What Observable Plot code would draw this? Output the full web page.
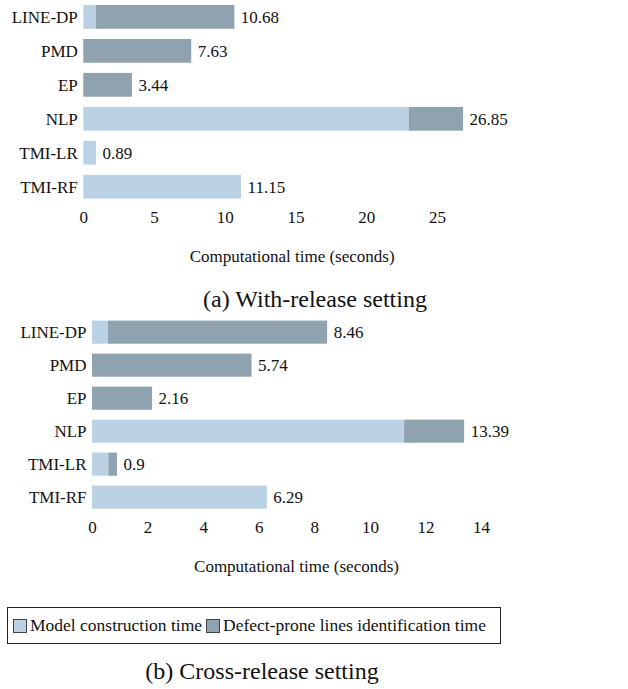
<!DOCTYPE html>
<html>
<head>
<meta charset="utf-8">
<script src="https://cdn.jsdelivr.net/npm/d3@7"></script>
<script src="https://cdn.jsdelivr.net/npm/@observablehq/plot@0.6"></script>
<style>
  html, body { margin: 0; padding: 0; background: #fff; }
  #wrap { position: relative; width: 628px; height: 689px; font-family: "Liberation Serif", "DejaVu Serif", serif; color: #111; }
  .panel { position: absolute; left: 0; }
  .cap { position: absolute; font-size: 24px; line-height: 24px; white-space: nowrap; transform: translate(-50%, -50%); }
  #legend { position: absolute; left: 7px; top: 607px; width: 492px; height: 35px; border: 1px solid #222; display: flex; align-items: center; font-size: 17.5px; box-sizing: content-box; }
  .sw { width: 14px; height: 14px; border: 1px solid #444; margin-left: 5px; margin-right: 3px; box-sizing: border-box; }
</style>
</head>
<body>
<div id="wrap">
  <div id="pa" class="panel" style="top:0px"></div>
  <div class="cap" style="left:315px; top:299px">(a) With-release setting</div>
  <div id="pb" class="panel" style="top:310px"></div>
  <div id="legend"></div>
  <div class="cap" style="left:262px; top:671px">(b) Cross-release setting</div>
</div>
<script>
const categories = ["LINE-DP", "PMD", "EP", "NLP", "TMI-LR", "TMI-RF"];
const seriesNames = ["Model construction time", "Defect-prone lines identification time"];
const seriesColors = ["#bbd2e5", "#8fa2af"];

// (a) With-release setting
const withModel = [0.88, 0, 0, 23.0, 0.89, 11.15];
const withIdent = [9.80, 7.63, 3.44, 3.85, 0, 0];
const withTotal = [10.68, 7.63, 3.44, 26.85, 0.89, 11.15];
const withLabels = ["10.68", "7.63", "3.44", "26.85", "0.89", "11.15"];
const withTicks = [0, 5, 10, 15, 20, 25];

// (b) Cross-release setting
const crossModel = [0.57, 0, 0, 11.23, 0.59, 6.29];
const crossIdent = [7.89, 5.74, 2.16, 2.16, 0.31, 0];
const crossTotal = [8.46, 5.74, 2.16, 13.39, 0.90, 6.29];
const crossLabels = ["8.46", "5.74", "2.16", "13.39", "0.9", "6.29"];
const crossTicks = [0, 2, 4, 6, 8, 10, 12, 14];

function rows(model, ident) {
  const r = [];
  categories.forEach((c, i) => r.push({cat: c, series: seriesNames[0], v: model[i]}));
  categories.forEach((c, i) => r.push({cat: c, series: seriesNames[1], v: ident[i]}));
  return r;
}

function panel(model, ident, total, labels, ticks, xmax, mLeft, mTop) {
  const lab = categories.map((c, i) => ({cat: c, t: total[i], s: labels[i]}));
  return Plot.plot({
    width: 628,
    height: 270,
    marginLeft: mLeft,
    marginRight: 128,
    marginTop: mTop,
    marginBottom: 68,
    style: {fontFamily: "Liberation Serif, DejaVu Serif, serif", fontSize: "17px", color: "#111", background: "transparent"},
    x: {domain: [0, xmax], ticks: ticks, tickFormat: d => String(d), tickSize: 0, tickPadding: 8,
        label: "Computational time (seconds)", labelAnchor: "center", labelArrow: "none", labelOffset: 59},
    y: {domain: categories, paddingInner: 0.3, paddingOuter: 0.1, round: false, tickSize: 0, tickPadding: 6, label: null},
    color: {domain: seriesNames, range: seriesColors},
    marks: [
      Plot.barX(rows(model, ident), {x: "v", y: "cat", fill: "series", inset: 0}),
      Plot.text(lab, {x: "t", y: "cat", text: "s", textAnchor: "start", dx: 6, fill: "#111", fontSize: 17})
    ]
  });
}

document.getElementById("pa").appendChild(panel(withModel, withIdent, withTotal, withLabels, withTicks, 29.46, 83.3, 1.6));
document.getElementById("pb").appendChild(panel(crossModel, crossIdent, crossTotal, crossLabels, crossTicks, 14.68, 92, 7.3));

const lg = document.getElementById("legend");
seriesNames.forEach((n, i) => {
  const sw = document.createElement("div");
  sw.className = "sw";
  sw.style.background = seriesColors[i];
  if (i > 0) sw.style.marginLeft = "4px";
  lg.appendChild(sw);
  const t = document.createElement("span");
  t.textContent = n;
  lg.appendChild(t);
});
</script>
</body>
</html>
